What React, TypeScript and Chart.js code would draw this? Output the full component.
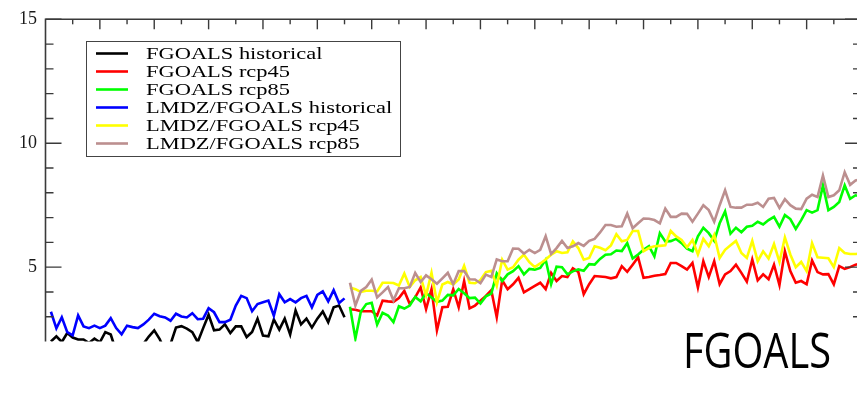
import React, { useEffect, useRef } from 'react';
import { Chart, registerables } from 'chart.js';

Chart.register(...registerables);

// ---------- data ----------
const HIST_START_YEAR = 1951;
const FUTURE_START_YEAR = 2006;
const X_MIN = 1950;
const X_MAX = 2100;
const Y_MIN = 2;
const Y_MAX = 15;
const Y_LABELED_TICKS = [5, 10, 15];

const fgoalsHistorical = [
  2.0, 2.21, 1.98, 2.34, 2.16, 2.08, 2.08, 1.94, 2.12, 1.97, 2.38, 2.28,
  1.6, 1.4, 1.5, 1.3, 1.6, 1.9, 2.2, 2.45, 2.1, 1.6, 1.9,
  2.56, 2.62, 2.52, 2.38, 1.98, 2.54, 3.08, 2.45, 2.48, 2.69, 2.34, 2.61, 2.61, 2.18, 2.38, 2.92, 2.24,
  2.21, 2.89, 2.48, 2.92, 2.28, 3.25, 2.69, 2.92, 2.56, 2.92, 3.21, 2.78, 3.38, 3.45, 2.98,
];

const fgoalsRcp45 = [
  3.3, 3.28, 3.22, 3.22, 3.22, 3.05, 3.65, 3.62, 3.6, 3.75, 4.04, 3.51, 3.78, 4.18, 3.31, 4.11, 2.45, 3.38, 3.4, 4.11, 3.38, 4.44, 3.34,
  3.45, 3.65, 3.84, 4.07, 2.98, 4.47, 4.11, 4.31, 4.57, 3.98, 4.11, 4.24, 4.37, 4.11, 4.77, 4.44, 4.64, 4.6, 4.95, 4.81, 3.91, 4.31, 4.64, 4.62,
  4.6, 4.55, 4.6, 5.04, 4.81, 5.1, 5.4, 4.57, 4.6, 4.65, 4.68, 4.72, 5.17, 5.17, 5.04, 4.9, 5.17, 4.18, 5.24, 4.6, 5.24, 4.31,
  4.71, 4.84, 5.1, 4.77, 4.41, 5.31, 4.47, 4.71, 4.51, 5.1, 4.28, 5.64, 4.84, 4.37, 4.44, 4.31, 5.27, 4.8, 4.71, 4.72, 4.31, 5.04, 4.93, 5.0, 5.1, 5.15,
];

const fgoalsRcp85 = [
  3.4, 2.12, 3.2, 3.51, 3.56, 2.68, 3.16, 3.05, 2.78, 3.42, 3.33, 3.45, 3.8, 3.62, 3.96, 3.78, 3.6, 3.65, 3.88, 3.86, 4.12, 3.95, 3.75,
  3.77, 3.53, 3.82, 3.93, 4.75, 4.44, 4.71, 4.84, 5.04, 4.71, 4.93, 4.9, 4.97, 5.3, 4.31, 5.02, 5.0, 4.71, 4.83, 4.91, 4.85, 5.12, 5.1, 5.33,
  5.5, 5.52, 5.67, 5.65, 5.97, 5.35, 5.51, 5.7, 5.85, 5.44, 6.37, 6.04, 6.05, 6.14, 5.97, 5.75, 5.64, 6.24, 6.59, 6.37, 6.06, 6.77,
  7.25, 6.35, 6.59, 6.41, 6.63, 6.67, 6.83, 6.72, 6.9, 7.03, 6.63, 7.1, 6.94, 6.54, 6.9, 7.3, 7.2, 7.3, 8.3, 7.3, 7.43, 7.63, 8.3, 7.76, 7.9, 7.85,
];

const lmdzHistorical = [
  3.2, 2.53, 2.98, 2.38, 2.25, 3.05, 2.61, 2.54, 2.64, 2.54,
  2.64, 2.94, 2.54, 2.29, 2.64, 2.58, 2.54, 2.69, 2.88, 3.12,
  3.02, 2.97, 2.84, 3.12, 3.01, 2.97, 3.14, 2.9, 2.92, 3.34,
  3.18, 2.78, 2.78, 2.88, 3.45, 3.84, 3.75, 3.22, 3.51, 3.58,
  3.65, 3.04, 3.91, 3.58, 3.71, 3.58, 3.75, 3.84, 3.38, 3.88,
  4.02, 3.62, 4.07, 3.55, 3.74,
];

const lmdzRcp45 = [
  4.18, 4.11, 4.0, 4.05, 4.05, 4.02, 4.37, 4.37, 4.36, 4.26, 4.74, 4.2, 4.47, 4.6, 3.86, 4.77, 3.58, 4.3, 4.4, 4.3, 4.5, 5.05, 4.37,
  4.35, 4.48, 4.8, 4.85, 4.24, 5.3, 4.9, 5.0, 5.3, 5.5, 5.2, 5.0, 5.15, 5.31, 5.5, 5.64, 5.57, 5.6, 6.04, 5.77, 5.3, 5.37, 5.84,
  5.78, 5.68, 5.88, 6.33, 6.04, 6.1, 6.46, 6.46, 5.64, 5.77, 5.84, 5.86, 5.88, 6.46, 6.24, 6.1, 5.8, 6.1, 5.51, 6.14, 5.84, 6.3, 5.37,
  5.7, 5.88, 6.06, 5.57, 5.37, 6.06, 5.24, 5.64, 5.35, 5.93, 5.21, 6.2, 5.51, 5.0, 5.21, 4.84, 5.97, 5.4, 5.38, 5.36, 5.0, 5.77, 5.57, 5.53, 5.53, 5.55,
];

const lmdzRcp85 = [
  4.37, 3.45, 4.04, 4.2, 4.5, 3.78, 3.98, 4.2, 3.66, 4.15, 4.15, 4.2, 4.77, 4.4, 4.67, 4.51, 4.33, 4.55, 4.77, 4.31, 4.84, 4.84, 4.51,
  4.5, 4.35, 4.7, 4.6, 5.31, 5.24, 5.24, 5.75, 5.74, 5.55, 5.7, 5.57, 5.7, 6.25, 5.53, 5.77, 6.06, 5.77, 5.84, 5.97, 5.86, 6.06, 6.14,
  6.4, 6.7, 6.7, 6.63, 6.65, 7.16, 6.57, 6.77, 6.96, 6.95, 6.9, 6.77, 7.36, 7.03, 7.03, 7.16, 7.15, 6.83, 7.16, 7.5, 7.3, 6.83, 7.5,
  8.1, 7.43, 7.4, 7.4, 7.52, 7.52, 7.6, 7.43, 7.76, 7.79, 7.39, 7.74, 7.5, 7.36, 7.34, 7.76, 7.92, 7.83, 8.7, 7.83, 7.9, 8.1, 8.83, 8.32, 8.5, 8.55,
];

const seriesLabels = [
  'FGOALS historical',
  'FGOALS rcp45',
  'FGOALS rcp85',
  'LMDZ/FGOALS historical',
  'LMDZ/FGOALS rcp45',
  'LMDZ/FGOALS rcp85',
];
const seriesValues = [fgoalsHistorical, fgoalsRcp45, fgoalsRcp85, lmdzHistorical, lmdzRcp45, lmdzRcp85];
const seriesStartYears = [HIST_START_YEAR, FUTURE_START_YEAR, FUTURE_START_YEAR, HIST_START_YEAR, FUTURE_START_YEAR, FUTURE_START_YEAR];
const seriesColors = ['#000000', '#ff0000', '#00ff00', '#0000ff', '#ffff00', '#bc8f8f'];
const panelTitle = 'FGOALS';

// ---------- plugins ----------
const SERIF = '"Liberation Serif", "Times New Roman", serif';

const framePlugin = {
  id: 'frame',
  afterDatasetsDraw(chart: any) {
    const { ctx, chartArea: a, scales } = chart;
    const x = scales.x;
    const y = scales.y;
    ctx.save();
    ctx.strokeStyle = '#3a3a3a';
    ctx.lineWidth = 1.6;
    ctx.beginPath();
    ctx.moveTo(a.left, a.bottom);
    ctx.lineTo(a.left, a.top);
    ctx.lineTo(a.right, a.top);
    ctx.lineTo(a.right, a.bottom);
    ctx.stroke();
    ctx.lineWidth = 1.4;
    for (let v = Y_MIN + 1; v <= Y_MAX; v++) {
      const py = y.getPixelForValue(v);
      const len = v % 5 === 0 ? 16 : 8;
      ctx.beginPath();
      ctx.moveTo(a.left, py);
      ctx.lineTo(a.left + len, py);
      ctx.moveTo(a.right, py);
      ctx.lineTo(a.right - len, py);
      ctx.stroke();
    }
    for (let yr = X_MIN + 5; yr < X_MAX; yr += 5) {
      const px = x.getPixelForValue(yr);
      const len = yr % 10 === 0 ? 10 : 5;
      ctx.beginPath();
      ctx.moveTo(px, a.top);
      ctx.lineTo(px, a.top + len);
      ctx.stroke();
    }
    ctx.restore();
  },
};

const legendBoxPlugin = {
  id: 'legendBox',
  afterDraw(chart: any) {
    const { ctx } = chart;
    const boxL = 86.5, boxT = 41.5, boxR = 400.5, boxB = 156.5;
    ctx.save();
    ctx.fillStyle = '#ffffff';
    ctx.fillRect(boxL, boxT, boxR - boxL, boxB - boxT);
    ctx.strokeStyle = '#444';
    ctx.lineWidth = 1;
    ctx.strokeRect(boxL, boxT, boxR - boxL, boxB - boxT);
    chart.data.datasets.forEach((ds: any, i: number) => {
      const ry = 53.5 + 18 * i;
      ctx.strokeStyle = ds.borderColor;
      ctx.lineWidth = 2.6;
      ctx.beginPath();
      ctx.moveTo(96, ry);
      ctx.lineTo(128, ry);
      ctx.stroke();
      ctx.save();
      ctx.translate(146, ry + 1);
      ctx.scale(1.32, 1);
      ctx.fillStyle = '#000';
      ctx.font = `17px ${SERIF}`;
      ctx.textBaseline = 'middle';
      ctx.textAlign = 'left';
      ctx.fillText(ds.label, 0, 0);
      ctx.restore();
    });
    // panel title
    ctx.save();
    ctx.font = '400 49px "Open Sans", "Noto Sans", sans-serif';
    ctx.textBaseline = 'alphabetic';
    const w = ctx.measureText(panelTitle).width;
    ctx.translate(683, 368);
    ctx.scale(148 / w, 1);
    ctx.fillStyle = '#000';
    ctx.fillText(panelTitle, 0, 0);
    ctx.restore();
    ctx.restore();
  },
};

export default function App() {
  const ref = useRef<HTMLCanvasElement>(null);

  useEffect(() => {
    const datasets = seriesValues.map((vals, i) => ({
      label: seriesLabels[i],
      data: vals.map((v, k) => ({ x: seriesStartYears[i] + k, y: v })),
      borderColor: seriesColors[i],
      backgroundColor: seriesColors[i],
      borderWidth: 2.6,
      pointRadius: 0,
      tension: 0,
      fill: false,
      order: seriesValues.length - i,
    }));

    const chart = new Chart(ref.current as HTMLCanvasElement, {
      type: 'line',
      data: { datasets },
      options: {
        responsive: false,
        animation: false,
        devicePixelRatio: 1,
        layout: { padding: { top: 15, right: 9, bottom: 66.5, left: 0 } },
        plugins: { legend: { display: false }, tooltip: { enabled: false } },
        scales: {
          x: {
            type: 'linear',
            min: X_MIN,
            max: X_MAX,
            grid: { display: false, drawTicks: false },
            border: { display: false },
            ticks: { display: false },
            afterFit: (s: any) => { s.height = 0; },
          },
          y: {
            type: 'linear',
            min: Y_MIN,
            max: Y_MAX,
            grid: { display: false, drawTicks: false },
            border: { display: false },
            ticks: {
              stepSize: 5,
              padding: 8.5,
              color: '#1a1a1a',
              font: { family: SERIF, size: 18 },
              callback: (v: any) => (Y_LABELED_TICKS.includes(Number(v)) ? String(v) : ''),
            },
            afterFit: (s: any) => { s.width = 45.5; },
          },
        },
      } as any,
      plugins: [framePlugin, legendBoxPlugin],
    });
    return () => chart.destroy();
  }, []);

  return (
    <div style={{ position: 'fixed', left: 0, top: 0, width: 857, height: 408, overflow: 'hidden', background: '#fff' }}>
      <canvas ref={ref} width={870} height={408} style={{ display: 'block', width: 870, height: 408 }} />
    </div>
  );
}
